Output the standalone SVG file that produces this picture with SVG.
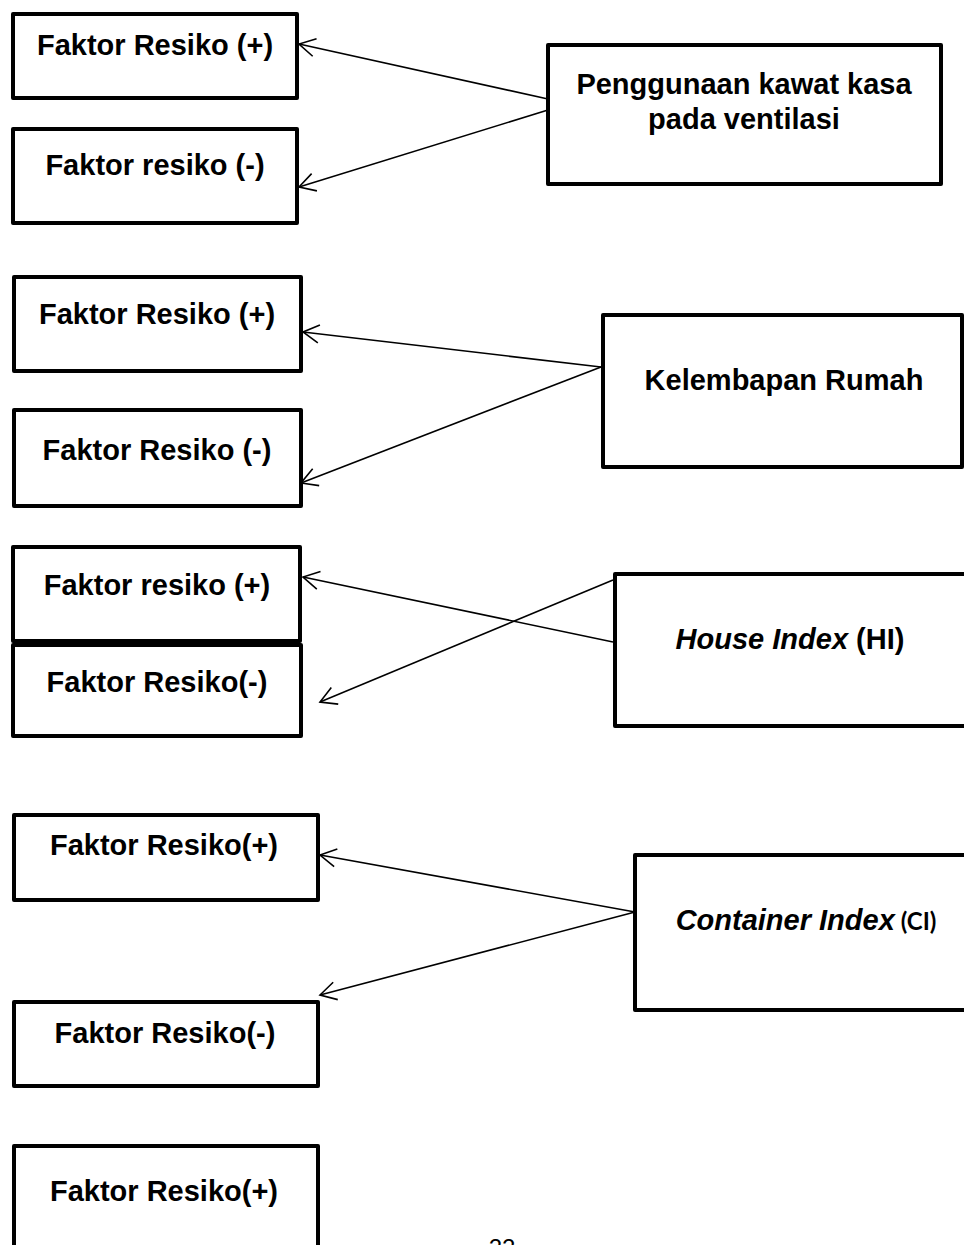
<svg xmlns="http://www.w3.org/2000/svg" width="964" height="1245" viewBox="0 0 964 1245">
  <style>
    .box { fill: #ffffff; stroke: #000000; stroke-width: 4; stroke-linejoin: round; }
    .lbl { font-family: "Liberation Sans", Arial, sans-serif; font-weight: bold; font-size: 29px; fill: #000000; text-anchor: middle; }
    .it { font-style: italic; }
    .abbr { font-family: Lato, "Liberation Sans", sans-serif; font-style: normal; font-size: 24px; }
    .link { fill: none; stroke: #000000; stroke-width: 1.6; marker-end: url(#open); }
    .page { font-family: "Liberation Sans", Arial, sans-serif; font-size: 24px; fill: #000000; text-anchor: middle; }
  </style>
  <defs>
    <marker id="open" markerUnits="userSpaceOnUse" viewBox="-18 -11 20 22" markerWidth="20" markerHeight="22" refX="0" refY="0" orient="auto" overflow="visible">
      <path d="M-16,-9 L0,0 L-16,9" fill="none" stroke="#000000" stroke-width="1.6"/>
    </marker>
  </defs>
  <rect width="964" height="1245" fill="#ffffff"/>

  <!-- connectors -->
  <g id="connectors">
    <line class="link" x1="548" y1="99" x2="299" y2="44"/>
    <line class="link" x1="548" y1="110" x2="299" y2="187"/>
    <line class="link" x1="601" y1="367" x2="303" y2="332"/>
    <line class="link" x1="601" y1="367" x2="301" y2="483"/>
    <line class="link" x1="613" y1="642" x2="303" y2="577"/>
    <line class="link" x1="613" y1="580" x2="320" y2="702"/>
    <line class="link" x1="635" y1="912" x2="320" y2="855"/>
    <line class="link" x1="635" y1="912" x2="320" y2="995"/>
  </g>

  <!-- group 1 -->
  <g id="a-plus">
    <rect class="box" x="13" y="14" width="284" height="84"/>
    <text class="lbl" x="155" y="55">Faktor Resiko (+)</text>
  </g>
  <g id="a-minus">
    <rect class="box" x="13" y="129" width="284" height="94"/>
    <text class="lbl" x="155" y="175">Faktor resiko (-)</text>
  </g>
  <g id="kawat-kasa">
    <rect class="box" x="548" y="45" width="393" height="139"/>
    <text class="lbl" x="744" y="94">Penggunaan kawat kasa</text>
    <text class="lbl" x="744" y="129">pada ventilasi</text>
  </g>

  <!-- group 2 -->
  <g id="b-plus">
    <rect class="box" x="14" y="277" width="287" height="94"/>
    <text class="lbl" x="157" y="324">Faktor Resiko (+)</text>
  </g>
  <g id="b-minus">
    <rect class="box" x="14" y="410" width="287" height="96"/>
    <text class="lbl" x="157" y="460">Faktor Resiko (-)</text>
  </g>
  <g id="kelembapan">
    <rect class="box" x="603" y="315" width="359" height="152"/>
    <text class="lbl" x="784" y="390">Kelembapan Rumah</text>
  </g>

  <!-- group 3 -->
  <g id="c-plus">
    <rect class="box" x="13" y="547" width="287" height="94"/>
    <text class="lbl" x="157" y="595">Faktor resiko (+)</text>
  </g>
  <g id="c-minus">
    <rect class="box" x="13" y="645" width="288" height="91"/>
    <text class="lbl" x="157" y="692">Faktor Resiko(-)</text>
  </g>
  <g id="house-index">
    <rect class="box" x="615" y="574" width="351" height="152"/>
    <text class="lbl" x="790" y="649"><tspan class="it">House Index</tspan> (HI)</text>
  </g>

  <!-- group 4 -->
  <g id="d-plus">
    <rect class="box" x="14" y="815" width="304" height="85"/>
    <text class="lbl" x="164" y="855">Faktor Resiko(+)</text>
  </g>
  <g id="d-minus">
    <rect class="box" x="14" y="1002" width="304" height="84"/>
    <text class="lbl" x="165" y="1043">Faktor Resiko(-)</text>
  </g>
  <g id="container-index">
    <rect class="box" x="635" y="855" width="340" height="155"/>
    <text class="lbl" x="806" y="930"><tspan class="it">Container Index</tspan><tspan class="abbr"> (CI)</tspan></text>
  </g>

  <!-- group 5 (continues on next page) -->
  <g id="e-plus">
    <rect class="box" x="14" y="1146" width="304" height="120"/>
    <text class="lbl" x="164" y="1201">Faktor Resiko(+)</text>
  </g>

  <text class="page" x="502" y="1256">22</text>
</svg>
